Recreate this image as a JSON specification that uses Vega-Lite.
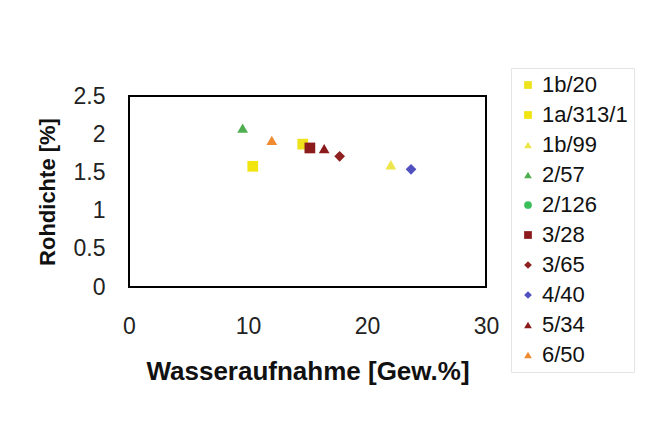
{
  "$schema": "https://vega.github.io/schema/vega-lite/v6.json",
  "autosize": {"type": "none"},
  "width": 357,
  "height": 191,
  "padding": {"left": 129, "top": 96, "right": 165, "bottom": 145},
  "background": "white",
  "config": {
    "font": "Liberation Sans",
    "view": {"stroke": "black", "strokeWidth": 2},
    "axis": {"grid": false, "domain": false, "ticks": false, "labelFlush": false, "labelColor": "#222", "titleColor": "#111"}
  },
  "data": {
    "values": [
      {"probe": "2/57", "wa": 9.55, "rd": 2.08},
      {"probe": "6/50", "wa": 12.0, "rd": 1.92},
      {"probe": "1b/20", "wa": 14.6, "rd": 1.87},
      {"probe": "3/28", "wa": 15.2, "rd": 1.82},
      {"probe": "5/34", "wa": 16.4, "rd": 1.81},
      {"probe": "3/65", "wa": 17.7, "rd": 1.71},
      {"probe": "1a/313/1", "wa": 10.4, "rd": 1.58},
      {"probe": "1b/99", "wa": 22.0, "rd": 1.6},
      {"probe": "4/40", "wa": 23.7, "rd": 1.54}
    ]
  },
  "mark": {"type": "point", "filled": true, "opacity": 1, "size": 115},
  "encoding": {
    "x": {
      "field": "wa", "type": "quantitative",
      "scale": {"domain": [0, 30], "nice": false},
      "axis": {"values": [0, 10, 20, 30], "format": "d", "labelFontSize": 23, "labelPadding": 28, "title": "Wasseraufnahme [Gew.%]", "titleFontSize": 26, "titleFontWeight": "bold", "titlePadding": 20}
    },
    "y": {
      "field": "rd", "type": "quantitative",
      "scale": {"domain": [0, 2.5], "nice": false},
      "axis": {"values": [0, 0.5, 1, 1.5, 2, 2.5], "format": "~g", "labelFontSize": 23, "labelPadding": 24, "title": "Rohdichte [%]", "titleFontSize": 22, "titleFontWeight": "bold", "titlePadding": 14}
    },
    "color": {
      "field": "probe", "type": "nominal",
      "scale": {
        "domain": ["1b/20", "1a/313/1", "1b/99", "2/57", "2/126", "3/28", "3/65", "4/40", "5/34", "6/50"],
        "range": ["#ede21c", "#f2e40f", "#ede64a", "#4fae4f", "#3cbf5a", "#8c1c1c", "#8e2020", "#5050c0", "#8b1a1a", "#f08a30"]
      },
      "legend": {
        "title": null, "orient": "none", "legendX": 382, "legendY": -28,
        "labelFontSize": 22, "labelColor": "#111", "symbolSize": 60, "symbolType": "square",
        "rowPadding": 8, "labelOffset": 3, "strokeColor": "#e4e4e4", "padding": 6
      }
    },
    "shape": {
      "field": "probe", "type": "nominal",
      "scale": {
        "domain": ["1b/20", "1a/313/1", "1b/99", "2/57", "2/126", "3/28", "3/65", "4/40", "5/34", "6/50"],
        "range": ["square", "square", "triangle-up", "triangle-up", "circle", "square", "diamond", "diamond", "triangle-up", "triangle-up"]
      },
      "legend": null
    }
  }
}
